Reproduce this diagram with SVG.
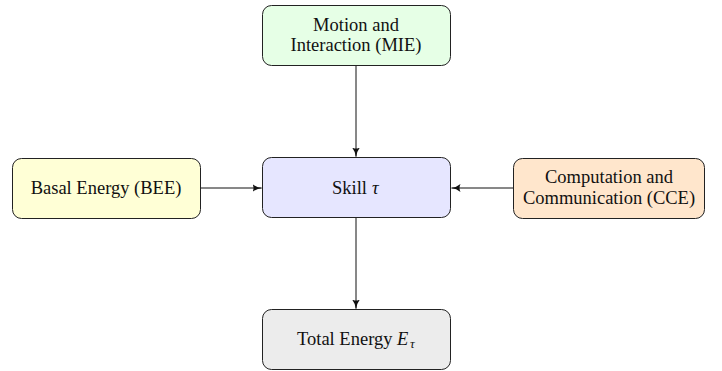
<svg xmlns="http://www.w3.org/2000/svg" width="722" height="371" viewBox="0 0 722 371">
<style>
.box{stroke:#222;stroke-width:1;}
.lbl{font-family:'Liberation Serif','Times New Roman',serif;font-size:18.5px;fill:#111;}
.mid{text-anchor:middle;}
.m{font-style:italic;}
.c{stroke:#111;stroke-width:1;fill:none;marker-end:url(#ah);}
</style>
<defs>
<marker id="ah" viewBox="0 0 10 10" refX="9" refY="5" markerWidth="10" markerHeight="10" markerUnits="userSpaceOnUse" orient="auto">
<path d="M0,1 Q4,4.5 10,5 Q4,5.5 0,9 Q2,5 0,1 Z" fill="#111"/>
</marker>
</defs>
<rect width="722" height="371" fill="#fff"/>
<g id="connectors">
<line class="c" x1="356" y1="65" x2="356" y2="156.5"/>
<line class="c" x1="200" y1="188" x2="261.5" y2="188"/>
<line class="c" x1="513" y1="188" x2="451.5" y2="188"/>
<line class="c" x1="356" y1="218" x2="356" y2="308.5"/>
</g>
<g id="mie">
<rect class="box" x="262.5" y="5.5" width="188" height="60" rx="9" fill="#e6ffe6"/>
<text class="lbl mid" font-family="Liberation Serif, serif" x="356" y="30.5">Motion and</text>
<text class="lbl mid" font-family="Liberation Serif, serif" x="356" y="50.5">Interaction (MIE)</text>
</g>
<g id="bee">
<rect class="box" x="12.5" y="158.5" width="188" height="60" rx="9" fill="#ffffd6"/>
<text class="lbl mid" font-family="Liberation Serif, serif" x="106" y="193.5">Basal Energy (BEE)</text>
</g>
<g id="skill">
<rect class="box" x="262.5" y="157.5" width="188" height="60" rx="9" fill="#e6e6ff"/>
<text class="lbl" font-family="Liberation Serif, serif" x="332" y="194">Skill</text>
<text class="lbl m" font-family="Liberation Serif, serif" x="372" y="194">τ</text>
</g>
<g id="cce">
<rect class="box" x="513.5" y="158.5" width="191" height="60" rx="9" fill="#ffe6cc"/>
<text class="lbl mid" font-family="Liberation Serif, serif" x="609" y="183">Computation and</text>
<text class="lbl mid" font-family="Liberation Serif, serif" x="609" y="203.5">Communication (CCE)</text>
</g>
<g id="total">
<rect class="box" x="262.5" y="309.5" width="188" height="60" rx="9" fill="#ececec"/>
<text class="lbl" font-family="Liberation Serif, serif" x="297" y="345">Total Energy <tspan class="m">E</tspan></text>
<text class="lbl m" font-family="Liberation Serif, serif" font-size="13" style="font-size:13px" x="410" y="348">τ</text>
</g>
</svg>
